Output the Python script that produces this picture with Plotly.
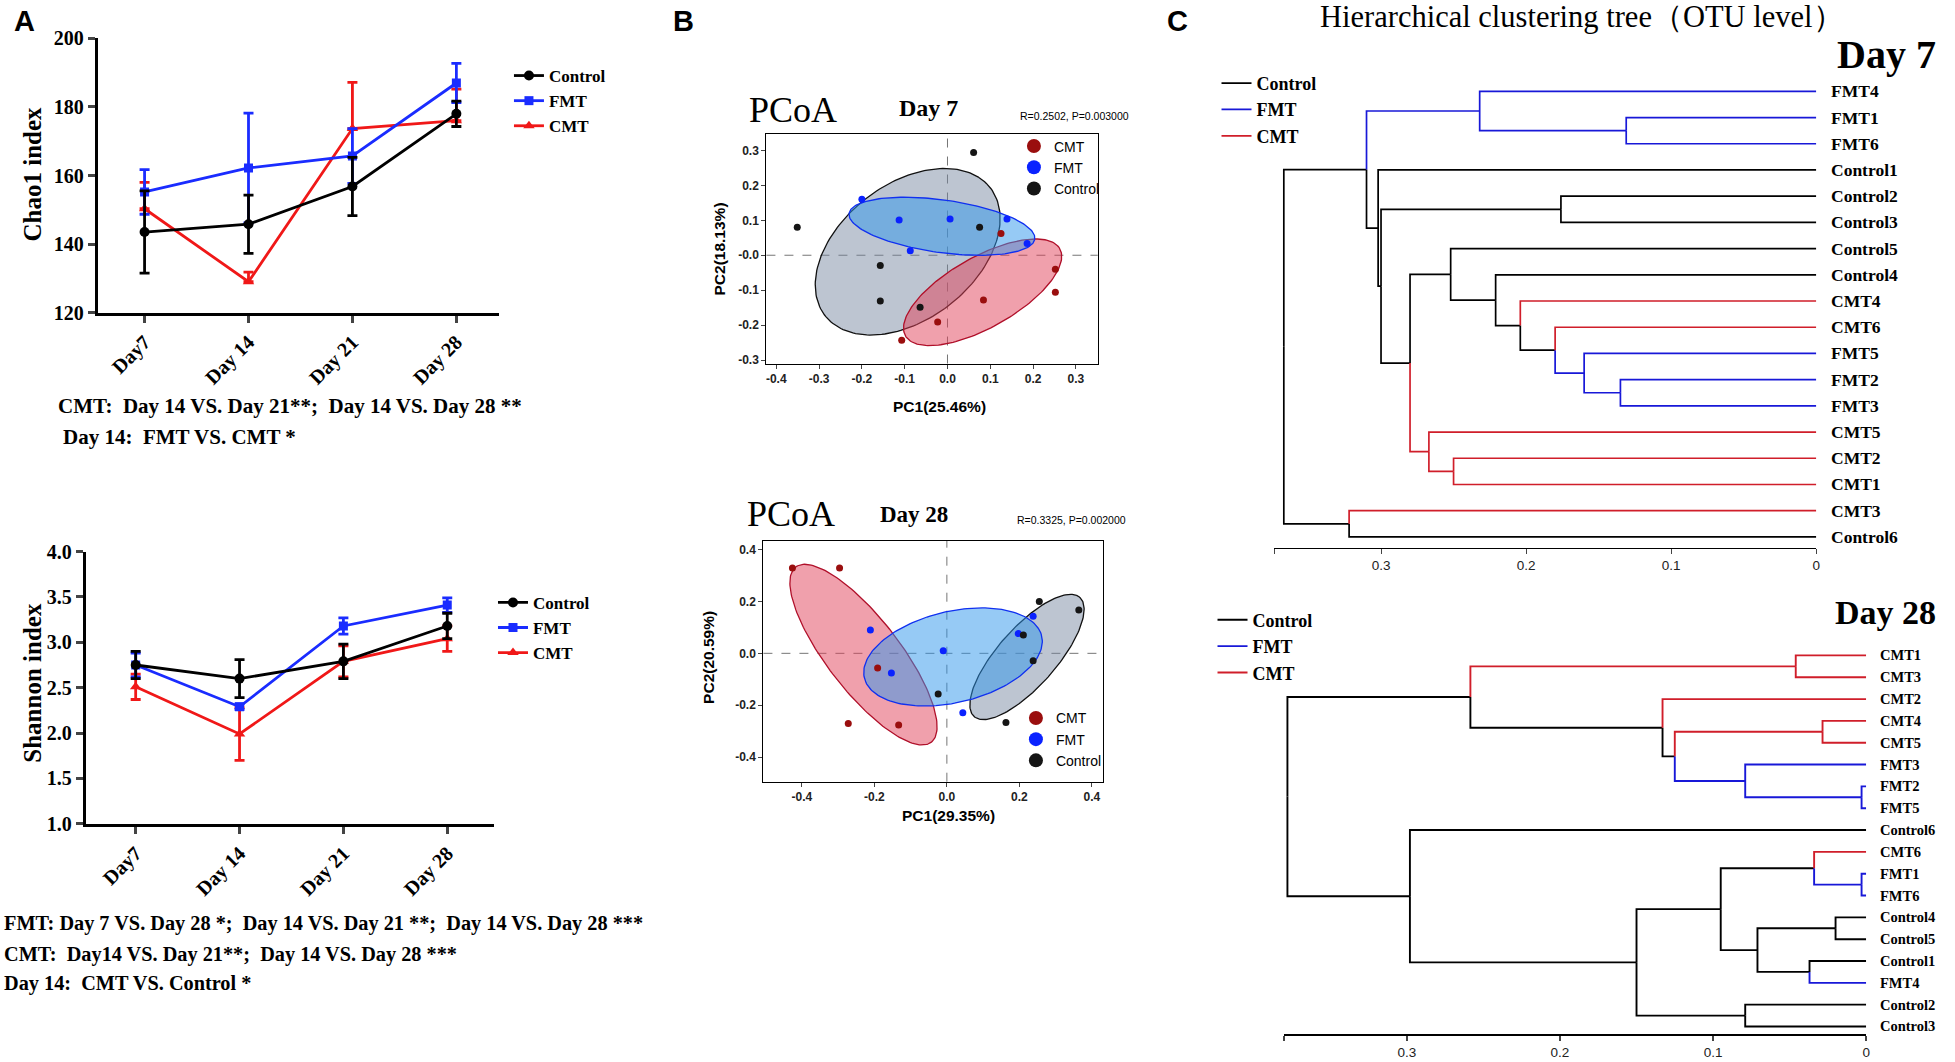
import numpy as np
import plotly.graph_objects as go

W, H = 1955, 1062
def fx(X): return X / W
def fy(Y): return 1 - Y / H

SERIF = "Liberation Serif"
SANS = "Liberation Sans"

# ---------------- data ----------------
days = ["Day7", "Day 14", "Day 21", "Day 28"]

chao_ctrl = [143.5, 145.8, 156.8, 178.0]
chao_ctrl_err = [12.0, 8.5, 8.5, 3.7]
chao_fmt = [155.2, 162.2, 165.7, 187.0]
chao_fmt_err = [6.5, 16.0, 8.0, 5.7]
chao_cmt = [150.3, 129.0, 173.7, 176.0]
chao_cmt_err_up = [7.7, 2.8, 13.5, 9.2]
chao_cmt_err_low = [0.0, 0.0, 0.0, 0.0]

shan_ctrl = [2.75, 2.60, 2.79, 3.18]
shan_ctrl_err = [0.15, 0.21, 0.19, 0.14]
shan_fmt = [2.75, 2.29, 3.18, 3.41]
shan_fmt_err = [0.13, 0.03, 0.09, 0.08]
shan_cmt = [2.51, 1.99, 2.79, 3.04]
shan_cmt_err = [0.14, 0.29, 0.17, 0.14]

# PCoA Day 7
pc7_cmt_x = [0.125, 0.252, 0.252, 0.084, -0.023, -0.107]
pc7_cmt_y = [0.062, -0.040, -0.106, -0.128, -0.191, -0.243]
pc7_fmt_x = [-0.200, -0.113, 0.006, 0.139, 0.186, -0.087]
pc7_fmt_y = [0.160, 0.101, 0.104, 0.104, 0.034, 0.013]
pc7_ctrl_x = [-0.351, 0.061, -0.157, -0.157, -0.064, 0.075]
pc7_ctrl_y = [0.080, 0.294, -0.029, -0.131, -0.149, 0.080]
# ellipse parameters (Control, FMT, CMT)
ell7_cx = [-0.093, -0.013, 0.082]
ell7_cy = [0.010, 0.083, -0.106]
ell7_a = [0.27, 0.22, 0.22]
ell7_b = [0.175, 0.075, 0.095]
ell7_ang = [52, -10, 37]

# PCoA Day 28
pc28_cmt_x = [-0.426, -0.296, -0.191, -0.272, -0.133]
pc28_cmt_y = [0.329, 0.329, -0.057, -0.271, -0.276]
pc28_fmt_x = [-0.211, -0.153, -0.010, 0.044, 0.197, 0.238]
pc28_fmt_y = [0.090, -0.076, 0.010, -0.229, 0.076, 0.143]
pc28_ctrl_x = [-0.024, 0.163, 0.211, 0.238, 0.255, 0.364]
pc28_ctrl_y = [-0.157, -0.267, 0.071, -0.029, 0.200, 0.167]
ell28_cx = [0.221, 0.017, -0.230]
ell28_cy = [-0.014, -0.014, -0.005]
ell28_a = [0.274, 0.26, 0.388]
ell28_b = [0.09, 0.17, 0.11]
ell28_ang = [60, 25, -62.7]

# Dendrograms (leaf order top->bottom, merges: child, child, height)
d7_leaves = ["FMT4", "FMT1", "FMT6", "Control1", "Control2", "Control3", "Control5",
             "Control4", "CMT4", "CMT6", "FMT5", "FMT2", "FMT3", "CMT5", "CMT2", "CMT1",
             "CMT3", "Control6"]
d7_merges = [("FMT1", "FMT6", 0.131), ("FMT4", 0, 0.232), ("Control2", "Control3", 0.176),
             ("FMT2", "FMT3", 0.135), ("FMT5", 3, 0.160), ("CMT6", 4, 0.180),
             ("CMT4", 5, 0.204), ("Control4", 6, 0.221), ("Control5", 7, 0.252),
             ("CMT2", "CMT1", 0.250), ("CMT5", 9, 0.267), (8, 10, 0.280), (2, 11, 0.300),
             ("Control1", 12, 0.302), (1, 13, 0.310), ("CMT3", "Control6", 0.322),
             (14, 15, 0.367)]
d28_leaves = ["CMT1", "CMT3", "CMT2", "CMT4", "CMT5", "FMT3", "FMT2", "FMT5", "Control6",
              "CMT6", "FMT1", "FMT6", "Control4", "Control5", "Control1", "FMT4",
              "Control2", "Control3"]
d28_merges = [("CMT1", "CMT3", 0.046), ("CMT4", "CMT5", 0.0285), ("FMT2", "FMT5", 0.003),
              ("FMT3", 2, 0.079), (1, 3, 0.125), ("CMT2", 4, 0.133), (0, 5, 0.2585),
              ("FMT1", "FMT6", 0.003), ("CMT6", 7, 0.034), ("Control4", "Control5", 0.020),
              ("Control1", "FMT4", 0.037), (9, 10, 0.071), (8, 11, 0.095),
              ("Control2", "Control3", 0.079), (12, 13, 0.150), ("Control6", 14, 0.298),
              (6, 15, 0.378)]

# ---------------- figure ----------------
fig = go.Figure()
COL = {"Control": "#000000", "FMT": "#1a2cff", "CMT": "#f01818"}
SYM = {"Control": "circle", "FMT": "square", "CMT": "triangle-up"}
RANK = {"Control": 1, "FMT": 2, "CMT": 3}
xcat = list(range(len(days)))

def line_trace(name, y, up, low, ax, leg):
    return go.Scatter(
        x=xcat, y=y, name=name, mode="lines+markers",
        line=dict(color=COL[name], width=2.8),
        marker=dict(symbol=SYM[name], size=10 if name != "FMT" else 9, color=COL[name]),
        error_y=dict(type="data", array=up, arrayminus=low, symmetric=False,
                     color=COL[name], thickness=2.8, width=5),
        xaxis="x" + ax, yaxis="y" + ax, legend=leg, legendrank=RANK[name])

fig.add_trace(line_trace("CMT", chao_cmt, chao_cmt_err_up, chao_cmt_err_low, "", "legend"))
fig.add_trace(line_trace("FMT", chao_fmt, chao_fmt_err, chao_fmt_err, "", "legend"))
fig.add_trace(line_trace("Control", chao_ctrl, chao_ctrl_err, chao_ctrl_err, "", "legend"))
fig.add_trace(line_trace("CMT", shan_cmt, shan_cmt_err, shan_cmt_err, "2", "legend2"))
fig.add_trace(line_trace("FMT", shan_fmt, shan_fmt_err, shan_fmt_err, "2", "legend2"))
fig.add_trace(line_trace("Control", shan_ctrl, shan_ctrl_err, shan_ctrl_err, "2", "legend2"))

# PCoA
ELL_FILL = {"Control": "rgba(118,134,158,0.48)", "FMT": "rgba(45,150,235,0.5)",
            "CMT": "rgba(225,65,90,0.5)"}
ELL_LINE = {"Control": "#111111", "FMT": "#1030f0", "CMT": "#b0102a"}
PT = {"CMT": "#9a0e0e", "FMT": "#0a22ff", "Control": "#151515"}

def ellipse(cx, cy, a, b, ang):
    t = np.linspace(0, 2 * np.pi, 181)
    th = np.deg2rad(ang)
    ex = cx + a * np.cos(t) * np.cos(th) - b * np.sin(t) * np.sin(th)
    ey = cy + a * np.cos(t) * np.sin(th) + b * np.sin(t) * np.cos(th)
    return ex, ey

def pcoa(ax, leg, cx, cy, a, b, ang, pts):
    gnames = ["Control", "FMT", "CMT"]
    for i in [0, 2, 1]:
        g = gnames[i]
        ex, ey = ellipse(cx[i], cy[i], a[i], b[i], ang[i])
        fig.add_trace(go.Scatter(x=ex, y=ey, mode="lines", fill="toself",
                                 fillcolor=ELL_FILL[g], line=dict(color=ELL_LINE[g], width=1.3),
                                 showlegend=False, hoverinfo="skip",
                                 xaxis="x" + ax, yaxis="y" + ax))
    for g, (px, py) in pts:
        fig.add_trace(go.Scatter(x=px, y=py, mode="markers", name=g,
                                 marker=dict(size=7, color=PT[g]), showlegend=False,
                                 xaxis="x" + ax, yaxis="y" + ax))
    for g, _ in pts:
        fig.add_trace(go.Scatter(x=[None], y=[None], mode="markers", name=g,
                                 marker=dict(size=14, color=PT[g]), legend=leg,
                                 xaxis="x" + ax, yaxis="y" + ax))

pcoa("3", "legend3", ell7_cx, ell7_cy, ell7_a, ell7_b, ell7_ang,
     [("CMT", (pc7_cmt_x, pc7_cmt_y)), ("FMT", (pc7_fmt_x, pc7_fmt_y)),
      ("Control", (pc7_ctrl_x, pc7_ctrl_y))])
pcoa("4", "legend4", ell28_cx, ell28_cy, ell28_a, ell28_b, ell28_ang,
     [("CMT", (pc28_cmt_x, pc28_cmt_y)), ("FMT", (pc28_fmt_x, pc28_fmt_y)),
      ("Control", (pc28_ctrl_x, pc28_ctrl_y))])

# Dendrograms
DCOL = {"Control": "#000000", "FMT": "#1818d8", "CMT": "#d01e2a"}
def grp(n):
    return "CMT" if n.startswith("CMT") else ("FMT" if n.startswith("FMT") else "Control")

def dendro(leaves, merges, ax, leg, lw):
    pos = {n: i for i, n in enumerate(leaves)}
    ny, nh, ng = [], [], []
    segs = {g: ([], []) for g in ["Control", "FMT", "CMT"]}
    def info(c):
        if isinstance(c, str):
            return pos[c], 0.0, grp(c)
        return ny[c], nh[c], ng[c]
    for c1, c2, h in merges:
        a1, a2 = info(c1), info(c2)
        yp = (a1[0] + a2[0]) / 2
        for yc, hc, gc in (a1, a2):
            xs, ys = segs[gc if gc else "Control"]
            xs += [h, h, hc, None]
            ys += [yp, yc, yc, None]
        ny.append(yp); nh.append(h)
        ng.append(a1[2] if a1[2] == a2[2] else None)
    for g in ["Control", "FMT", "CMT"]:
        xs, ys = segs[g]
        fig.add_trace(go.Scatter(x=xs, y=ys, mode="lines", name=g,
                                 line=dict(color=DCOL[g], width=lw), legend=leg,
                                 xaxis="x" + ax, yaxis="y" + ax, hoverinfo="skip"))

dendro(d7_leaves, d7_merges, "5", "legend5", 1.7)
dendro(d28_leaves, d28_merges, "6", "legend6", 1.9)

# ---------------- layout ----------------
def dom(X0, X1, Y0, Y1):
    return [fx(X0), fx(X1)], [fy(Y1), fy(Y0)]

AXL = dict(showline=True, linecolor="black", showgrid=False, zeroline=False,
           ticks="outside")

xd, yd = dom(98, 500, 28, 308)
xaxis = dict(AXL, domain=xd, anchor="y", range=[-0.45, 3.41], tickvals=xcat, ticktext=days,
             tickangle=-45, linewidth=3, tickwidth=3, ticklen=7,
             tickfont=dict(family=SERIF, size=20, color="black", weight="bold"))
yaxis = dict(AXL, domain=yd, anchor="x", range=[120, 200], dtick=20, linewidth=3,
             tickwidth=3, ticklen=7,
             tickfont=dict(family=SERIF, size=20, color="black", weight="bold"))
xd, yd = dom(86, 495, 552, 830)
xaxis2 = dict(xaxis, domain=xd, anchor="y2", range=[-0.48, 3.45])
yaxis2 = dict(yaxis, domain=yd, anchor="x2", range=[1.0, 4.0], dtick=0.5, tickformat=".1f")

PTF = dict(family=SANS, size=12, color="#222222", weight="bold")
xd, yd = dom(768, 1100, 126, 360)
xaxis3 = dict(AXL, domain=xd, anchor="y3", range=[-0.423, 0.351], mirror=True, linewidth=1.4,
              tickvals=[-0.4, -0.3, -0.2, -0.1, 0, 0.1, 0.2, 0.3],
              ticktext=["-0.4", "-0.3", "-0.2", "-0.1", "0.0", "0.1", "0.2", "0.3"],
              ticklen=4, tickwidth=1, tickfont=PTF)
yaxis3 = dict(AXL, domain=yd, anchor="x3", range=[-0.31, 0.346], mirror=True, linewidth=1.4,
              tickvals=[-0.3, -0.2, -0.1, 0, 0.1, 0.2, 0.3],
              ticktext=["-0.3", "-0.2", "-0.1", "-0.0", "0.1", "0.2", "0.3"],
              ticklen=4, tickwidth=1, tickfont=PTF)
xd, yd = dom(765, 1105, 541, 787)
xaxis4 = dict(AXL, domain=xd, anchor="y4", range=[-0.506, 0.43], mirror=True, linewidth=1.4,
              tickvals=[-0.4, -0.2, 0, 0.2, 0.4],
              ticktext=["-0.4", "-0.2", "0.0", "0.2", "0.4"],
              ticklen=4, tickwidth=1, tickfont=PTF)
yaxis4 = dict(AXL, domain=yd, anchor="x4", range=[-0.495, 0.434], mirror=True, linewidth=1.4,
              tickvals=[-0.4, -0.2, 0, 0.2, 0.4],
              ticktext=["-0.4", "-0.2", "0.0", "0.2", "0.4"],
              ticklen=4, tickwidth=1, tickfont=PTF)

DTF = dict(family=SANS, size=13.5, color="#222222")
xd, yd = dom(1277, 1820, 70, 548)
xaxis5 = dict(AXL, domain=xd, anchor="y5", range=[0.3735, 0], linewidth=1.4,
              tickvals=[0.3735, 0.3, 0.2, 0.1, 0], ticktext=["", "0.3", "0.2", "0.1", "0"],
              ticklen=5, tickwidth=1.4, tickfont=DTF)
yaxis5 = dict(domain=yd, anchor="x5", range=[17.41, -0.45], visible=False)
xd, yd = dom(1287, 1870, 640, 1045)
xaxis6 = dict(AXL, domain=xd, anchor="y6", range=[0.38, 0], linewidth=1.6,
              tickvals=[0.38, 0.3, 0.2, 0.1, 0], ticktext=["", "0.3", "0.2", "0.1", "0"],
              ticklen=5, tickwidth=1.6, tickfont=DTF)
yaxis6 = dict(domain=yd, anchor="x6", range=[17.36, -0.81], visible=False)

def leg(X, Y, fam, size, bold=True):
    return dict(x=fx(X), y=fy(Y), xanchor="left", yanchor="top", bgcolor="rgba(0,0,0,0)",
                font=dict(family=fam, size=size, color="black",
                          weight="bold" if bold else "normal"),
                itemwidth=30, tracegroupgap=0)

ann = []
def A(text, X, Y, size, fam=SERIF, xanchor="left", bold=True, angle=0, color="black"):
    ann.append(dict(text=("<b>%s</b>" % text) if bold else text, x=fx(X), y=fy(Y),
                    xref="paper", yref="paper", xanchor=xanchor, yanchor="middle",
                    showarrow=False, textangle=angle,
                    font=dict(family=fam, size=size, color=color)))

NB = "\u00a0"
A("A", 12, 10, 29, fam=SANS)
A("B", 672, 10, 29, fam=SANS)
A("C", 1167, 10, 29, fam=SANS)
A("Chao1 index", 33, 166, 25, xanchor="center", angle=-90)
A("Shannon index", 33, 686, 25, xanchor="center", angle=-90)
A("CMT:" + NB * 2 + "Day 14 VS. Day 21**;" + NB * 2 + "Day 14 VS. Day 28 **", 56, 403, 21)
A("Day 14:" + NB * 2 + "FMT VS. CMT *", 61, 435, 21)
A("FMT: Day 7 VS. Day 28 *;" + NB * 2 + "Day 14 VS. Day 21 **;" + NB * 2 + "Day 14 VS. Day 28 ***",
  2, 932, 20.3)
A("CMT:" + NB * 2 + "Day14 VS. Day 21**;" + NB * 2 + "Day 14 VS. Day 28 ***", 2, 963, 20.3)
A("Day 14:" + NB * 2 + "CMT VS. Control *", 2, 993, 20.3)

A("PCoA", 795, 101, 36, xanchor="center", bold=False)
A("Day 7", 930, 99, 24, xanchor="center")
A("R=0.2502, P=0.003000", 1133, 107, 10.5, fam=SANS, xanchor="right", bold=False)
A("PC1(25.46%)", 941, 404, 15.5, fam=SANS, xanchor="center")
A("PC2(18.13%)", 721, 243, 15.5, fam=SANS, xanchor="center", angle=-90)
A("PCoA", 793, 514, 36, xanchor="center", bold=False)
A("Day 28", 916, 514, 23, xanchor="center")
A("R=0.3325, P=0.002000", 1130, 520, 10.5, fam=SANS, xanchor="right", bold=False)
A("PC1(29.35%)", 950, 822, 15.5, fam=SANS, xanchor="center")
A("PC2(20.59%)", 710, 660, 15.5, fam=SANS, xanchor="center", angle=-90)

A("Hierarchical clustering tree（OTU level）", 1585, 6, 30.5, xanchor="center", bold=False)
A("Day 7", 1942, 44, 40, xanchor="right")
A("Day 28", 1942, 614, 34, xanchor="right")

for i, n in enumerate(d7_leaves):
    ann.append(dict(text="<b>%s</b>" % n, x=0, y=i, xref="x5", yref="y5", xanchor="left",
                    yanchor="middle", xshift=13, showarrow=False,
                    font=dict(family=SERIF, size=17.5, color="black")))
for i, n in enumerate(d28_leaves):
    ann.append(dict(text="<b>%s</b>" % n, x=0, y=i, xref="x6", yref="y6", xanchor="left",
                    yanchor="middle", xshift=12, showarrow=False,
                    font=dict(family=SERIF, size=14.5, color="black")))

shapes = []
for ax in ["3", "4"]:
    shapes.append(dict(type="line", xref="x" + ax, yref="y" + ax + " domain", x0=0, x1=0,
                       y0=0, y1=1, line=dict(color="#666666", width=0.9, dash="dash"),
                       layer="below"))
    shapes.append(dict(type="line", xref="x" + ax + " domain", yref="y" + ax, x0=0, x1=1,
                       y0=0, y1=0, line=dict(color="#666666", width=0.9, dash="dash"),
                       layer="below"))

fig.update_layout(
    width=W, height=H, autosize=False, margin=dict(l=0, r=0, t=0, b=0),
    paper_bgcolor="white", plot_bgcolor="white",
    xaxis=xaxis, yaxis=yaxis, xaxis2=xaxis2, yaxis2=yaxis2,
    xaxis3=xaxis3, yaxis3=yaxis3, xaxis4=xaxis4, yaxis4=yaxis4,
    xaxis5=xaxis5, yaxis5=yaxis5, xaxis6=xaxis6, yaxis6=yaxis6,
    legend=leg(510, 48, SERIF, 17),
    legend2=leg(494, 586, SERIF, 17),
    legend3=leg(1016, 122, SANS, 14, bold=False),
    legend4=leg(1018, 706, SANS, 14, bold=False),
    legend5=leg(1219, 55, SERIF, 18),
    legend6=leg(1215, 603, SERIF, 18),
    annotations=ann, shapes=shapes, showlegend=True,
)

fig.write_html("out.html", config={"displayModeBar": False},
               post_script="document.body.style.margin='0px';")
